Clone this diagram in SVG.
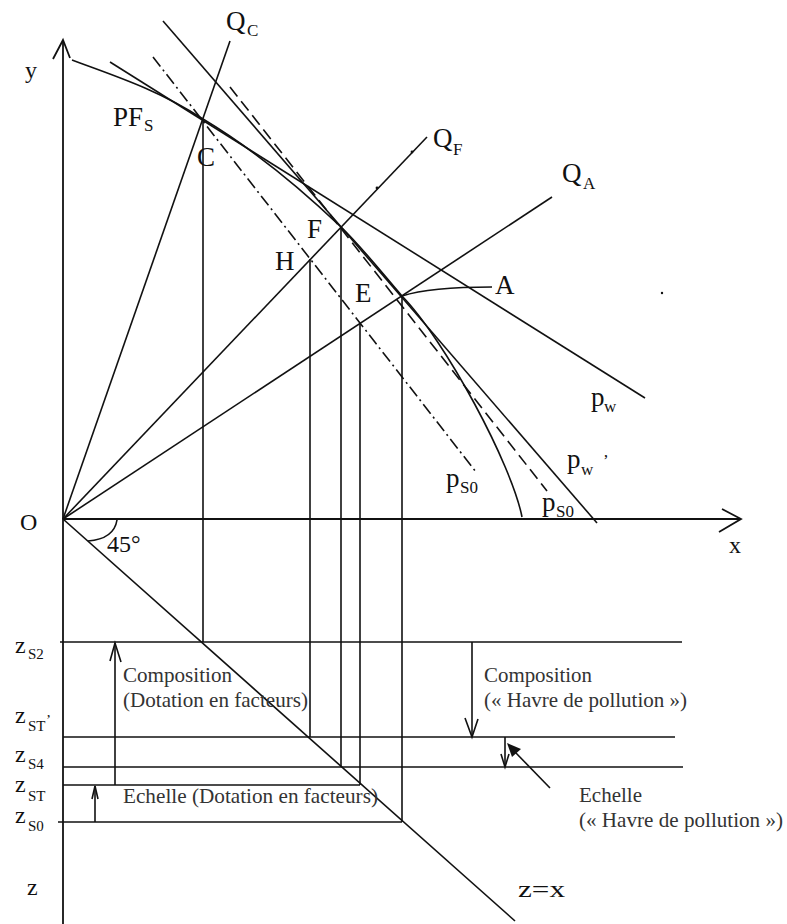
<svg xmlns="http://www.w3.org/2000/svg" width="787" height="924" viewBox="0 0 787 924">
<style>
.ln{stroke:#111;stroke-width:1.6;fill:none}
.ax{stroke:#111;stroke-width:1.8;fill:none}
.dd{stroke:#111;stroke-width:1.6;fill:none;stroke-dasharray:12 4 2 4}
.ds{stroke:#111;stroke-width:1.6;fill:none;stroke-dasharray:12 6}
.lb{font-family:"Liberation Serif",serif;font-size:27px;fill:#111}
.sb{font-family:"Liberation Serif",serif;font-size:17px;fill:#111}
.zl{font-family:"Liberation Serif",serif;font-size:24px;fill:#111}
.zs{font-family:"Liberation Serif",serif;font-size:15px;fill:#111}
.tx{font-family:"Liberation Serif",serif;font-size:21px;fill:#333}
</style>
<rect width="787" height="924" fill="#fff"/>
<g id="axes">
<line class="ax" x1="63" y1="40" x2="63" y2="924"/>
<polyline class="ax" points="53,59 63,40 70,58"/>
<line class="ax" x1="63" y1="519" x2="741" y2="519"/>
<polyline class="ax" points="722,509 741,519 719,532"/>
<line class="ln" x1="63" y1="519" x2="515" y2="921"/>
<path class="ln" d="M117,520 Q114,539 88,541"/>
</g>
<g id="rays">
<line class="ln" x1="63" y1="519" x2="230" y2="41"/>
<line class="ln" x1="63" y1="519" x2="427" y2="137"/>
<line class="ln" x1="63" y1="519" x2="552" y2="197"/>
<circle cx="377" cy="188" r="1.4" fill="#111"/>
<circle cx="412" cy="152" r="1.4" fill="#111"/>
<circle cx="662" cy="293" r="1.2" fill="#111"/>
</g>
<g id="curves">
<path class="ln" d="M72,60 C115,76 159,90 203,119 C248,146 295,183 341,227 C361,246 382,273 402,296 C445,340 512,465 522,517"/>
<line class="ln" x1="110" y1="62" x2="645" y2="398"/>
<line class="ln" x1="163" y1="21" x2="597" y2="523"/>
<line class="dd" x1="153" y1="57" x2="476" y2="472"/>
<line class="ds" x1="230" y1="87" x2="547" y2="491"/>
<path class="ln" d="M402,296 Q430,287 492,287"/>
</g>
<g id="projections">
<line class="ln" x1="203" y1="119" x2="203" y2="642"/>
<line class="ln" x1="310" y1="259" x2="310" y2="737"/>
<line class="ln" x1="341" y1="227" x2="341" y2="767"/>
<line class="ln" x1="360" y1="323" x2="360" y2="785"/>
<line class="ln" x1="402" y1="296" x2="402" y2="822"/>
<line class="ln" x1="60" y1="642" x2="682" y2="642"/>
<line class="ln" x1="63" y1="737" x2="675" y2="737"/>
<line class="ln" x1="63" y1="767" x2="683" y2="767"/>
<line class="ln" x1="63" y1="785" x2="360" y2="785"/>
<line class="ln" x1="58" y1="822" x2="402" y2="822"/>
</g>
<g id="arrows">
<line class="ln" x1="115" y1="785" x2="115" y2="643"/>
<polyline class="ln" points="110,661 115,643 121,662"/>
<line class="ln" x1="95" y1="822" x2="95" y2="786"/>
<polyline class="ln" points="92,799 95,786 98,799"/>
<line class="ln" x1="472" y1="642" x2="472" y2="737"/>
<polyline class="ln" points="465,718 472,737 478,719"/>
<line class="ln" x1="505" y1="737" x2="505" y2="767"/>
<polyline class="ln" points="501,754 505,767 509,754"/>
<line class="ln" x1="550" y1="788" x2="515" y2="752"/>
<polygon points="507,743 521,749 512,757" fill="#111"/>
</g>
<g id="labels">
<text class="zl" x="25" y="78" font-size="26">y</text>
<text class="zl" x="20" y="530" font-size="26">O</text>
<text class="zl" x="729" y="553" font-size="26">x</text>
<text class="lb" x="113" y="126">PF</text><text class="sb" x="144" y="131" font-size="19">S</text>
<text class="lb" x="197" y="166">C</text>
<text class="lb" x="226" y="30">Q</text><text class="sb" x="247" y="36">C</text>
<text class="lb" x="433" y="147">Q</text><text class="sb" x="453" y="155">F</text>
<text class="lb" x="562" y="182">Q</text><text class="sb" x="583" y="189">A</text>
<text class="lb" x="307" y="238">F</text>
<text class="lb" x="275" y="270">H</text>
<text class="lb" x="355" y="302">E</text>
<text class="lb" x="495" y="294">A</text>
<text class="lb" x="591" y="406">p</text><text class="sb" x="604" y="412">w</text>
<text class="lb" x="567" y="468">p</text><text class="sb" x="581" y="475">w</text><text class="sb" x="603" y="466">’</text>
<text class="lb" x="446" y="487">p</text><text class="sb" x="460" y="493">S0</text>
<text class="lb" x="542" y="511">p</text><text class="sb" x="556" y="517">S0</text>
<text class="zl" x="107" y="552">45°</text>
<text class="zl" x="15" y="653">z</text><text class="zs" x="28" y="659">S2</text>
<text class="zl" x="15" y="723">z</text><text class="zs" x="28" y="731">ST</text><text class="zs" x="46" y="725">’</text>
<text class="zl" x="15" y="762">z</text><text class="zs" x="28" y="769">S4</text>
<text class="zl" x="15" y="792">z</text><text class="zs" x="28" y="801">ST</text>
<text class="zl" x="15" y="823">z</text><text class="zs" x="28" y="831">S0</text>
<text class="zl" x="27" y="895">z</text>
<text class="zl" x="518" y="897" font-size="28" textLength="47" lengthAdjust="spacingAndGlyphs">z=x</text>
</g>
<g id="notes">
<text class="tx" x="123" y="682" textLength="109" lengthAdjust="spacingAndGlyphs">Composition</text>
<text class="tx" x="123" y="707" textLength="185" lengthAdjust="spacingAndGlyphs">(Dotation en facteurs)</text>
<text class="tx" x="123" y="803" textLength="255" lengthAdjust="spacingAndGlyphs">Echelle (Dotation en facteurs)</text>
<text class="tx" x="484" y="682" textLength="108" lengthAdjust="spacingAndGlyphs">Composition</text>
<text class="tx" x="484" y="707" textLength="203" lengthAdjust="spacingAndGlyphs">(« Havre de pollution »)</text>
<text class="tx" x="579" y="802" textLength="63" lengthAdjust="spacingAndGlyphs">Echelle</text>
<text class="tx" x="579" y="827" textLength="204" lengthAdjust="spacingAndGlyphs">(« Havre de pollution »)</text>
</g>
</svg>
